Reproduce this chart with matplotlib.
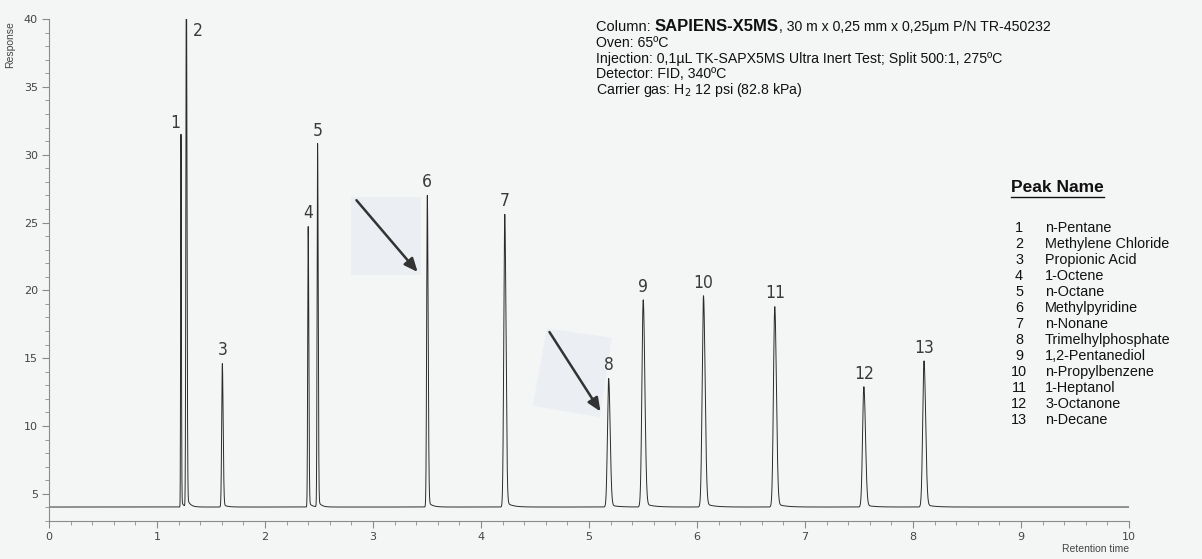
import numpy as np
import matplotlib.pyplot as plt
from matplotlib.patches import Polygon
from matplotlib.lines import Line2D
from matplotlib.ticker import MultipleLocator

# peak table
peak_ids = [1, 2, 3, 4, 5, 6, 7, 8, 9, 10, 11, 12, 13]
peak_rt = [1.222, 1.272, 1.605, 2.400, 2.487, 3.503, 4.220, 5.182, 5.502, 6.060, 6.720, 7.545, 8.102]
peak_height = [31.5, 44.0, 14.6, 24.7, 30.8, 27.0, 25.6, 13.5, 19.3, 19.6, 18.8, 12.9, 14.8]
peak_sigma = [0.0030, 0.0045, 0.0060, 0.0045, 0.0045, 0.0060, 0.0090, 0.0110, 0.0120, 0.0120, 0.0120, 0.0120, 0.0120]
peak_names = ["n-Pentane", "Methylene Chloride", "Propionic Acid", "1-Octene", "n-Octane",
              "Methylpyridine", "n-Nonane", "Trimelhylphosphate", "1,2-Pentanediol",
              "n-Propylbenzene", "1-Heptanol", "3-Octanone", "n-Decane"]
baseline = 4.03

W, H = 1202, 559
bg = "#f4f5f5"

fig = plt.figure(figsize=(W / 100, H / 100), dpi=100, facecolor=bg)
ax = fig.add_axes([49 / W, 1 - 521 / H, 1080 / W, 502 / H], facecolor=bg)

# build the trace from the peak table (slight tailing on the right side)
t = np.linspace(0, 10, 40001)
signal = np.full_like(t, baseline)
for rt, h, s in zip(peak_rt, peak_height, peak_sigma):
    hp = h - baseline
    left = np.exp(-0.5 * ((t - rt) / s) ** 2)
    right = np.exp(-0.5 * ((t - rt) / (1.25 * s)) ** 2)
    shape = np.where(t < rt, left, right)
    tail = np.where(t > rt, 0.02 * np.exp(-(t - rt) / (6 * s)), 0) * (1 - right)
    signal += hp * shape + hp * tail
ax.plot(t, signal, color="#2b2b2b", lw=0.7)

ax.set_xlim(0, 10)
ax.set_ylim(3, 40)
ax.xaxis.set_major_locator(MultipleLocator(1))
ax.xaxis.set_minor_locator(MultipleLocator(0.2))
ax.yaxis.set_major_locator(MultipleLocator(5))
ax.yaxis.set_minor_locator(MultipleLocator(1))
ax.set_yticks([5, 10, 15, 20, 25, 30, 35, 40])
for side in ["top", "right"]:
    ax.spines[side].set_visible(False)
for side in ["left", "bottom"]:
    ax.spines[side].set_color("#8a8a8a")
    ax.spines[side].set_linewidth(0.8)
ax.tick_params(which="major", length=5, color="#8a8a8a", labelsize=8, labelcolor="#444444", pad=3)
ax.tick_params(which="minor", length=3, color="#8a8a8a")

# peak numbers
lab = dict(fontsize=12.5, family="DejaVu Sans", fontstretch="condensed", color="#3a3a3a", zorder=6)
for pid, rt, h in zip(peak_ids, peak_rt, peak_height):
    if pid == 1:
        ax.annotate(str(pid), (rt, h), xytext=(-4, 2), textcoords="offset points",
                    ha="center", va="bottom", **lab)
    elif pid == 2:
        ax.annotate(str(pid), (rt, 40), xytext=(8, -2), textcoords="offset points",
                    ha="center", va="top", **lab)
    else:
        ax.annotate(str(pid), (rt, h), xytext=(0, 3), textcoords="offset points",
                    ha="center", va="bottom", **lab)

# arrow insets
box1 = Polygon([(2.80, 26.9), (3.44, 26.9), (3.44, 21.1), (2.80, 21.1)], closed=True,
               facecolor="#ebeff4", edgecolor="none", zorder=3)
box2 = Polygon([(4.61, 17.2), (5.21, 16.5), (5.10, 10.66), (4.48, 11.5)], closed=True,
               facecolor="#ebeff4", edgecolor="none", zorder=3)
ax.add_patch(box1)
ax.add_patch(box2)
arrow_style = dict(arrowstyle="-|>,head_length=0.8,head_width=0.35", color="#333333", lw=1.8)
ax.annotate("", xy=(3.43, 21.2), xytext=(2.83, 26.8), arrowprops=arrow_style, zorder=4)
ax.annotate("", xy=(5.12, 10.9), xytext=(4.62, 17.1), arrowprops=arrow_style, zorder=4)

# axis titles
fig.text(10 / W, 1 - 45 / H, "Response", rotation=90, ha="center", va="center",
         fontsize=7.5, color="#444444", family="Liberation Sans")
fig.text(1129 / W, 1 - 549 / H, "Retention time", ha="right", va="center",
         fontsize=7.5, color="#444444", family="Liberation Sans")

# method header
hdr = dict(family="Liberation Sans", color="#111111")
t1 = fig.text(596 / W, 1 - 27 / H, "Column: ", fontsize=10.5, va="center", **hdr)
t2 = ax.annotate("SAPIENS-X5MS", xy=(1, 0), xycoords=t1, va="bottom", fontsize=12,
                 fontweight="bold", **hdr)
ax.annotate(", 30 m x 0,25 mm x 0,25µm P/N TR-450232", xy=(1, 0), xycoords=t2,
            va="bottom", fontsize=10.2, **hdr)
header_lines = ["Oven: 65ºC",
                "Injection: 0,1µL TK-SAPX5MS Ultra Inert Test; Split 500:1, 275ºC",
                "Detector: FID, 340ºC",
                "Carrier gas: H$_2$ 12 psi (82.8 kPa)"]
for i, line in enumerate(header_lines):
    fig.text(596 / W, 1 - (43 + 15.6 * i) / H, line, fontsize=10.2, va="center", **hdr)

# peak name table
fig.text(1011 / W, 1 - 188 / H, "Peak Name", fontsize=12.5, fontweight="bold", va="center", **hdr)
fig.add_artist(Line2D([1011 / W, 1104 / W], [1 - 197 / H, 1 - 197 / H], color="#111111", lw=1.0))
for i, (pid, name) in enumerate(zip(peak_ids, peak_names)):
    y = 1 - (228 + 16 * i) / H
    fig.text(1019 / W, y, str(pid), fontsize=10.4, ha="center", va="center", **hdr)
    fig.text(1045 / W, y, name, fontsize=10.4, ha="left", va="center", **hdr)

fig.savefig("out.png", dpi=100, facecolor=bg)
